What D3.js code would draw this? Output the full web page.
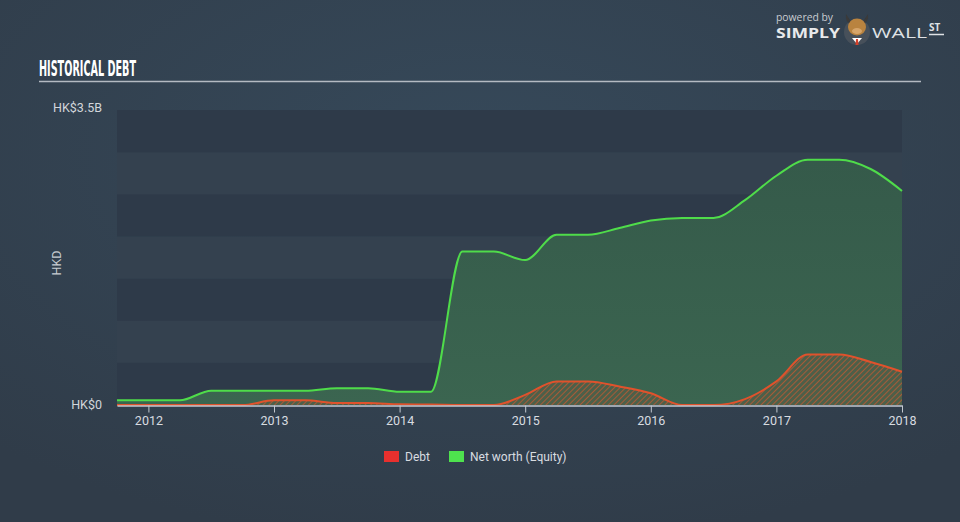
<!DOCTYPE html>
<html>
<head>
<meta charset="utf-8">
<script src="https://cdn.jsdelivr.net/npm/d3@7"></script>
<style>
  html, body { margin: 0; padding: 0; background: #323f4d; }
  svg { display: block; }
</style>
</head>
<body>
<svg id="chart" width="960" height="522"></svg>
<script>
// ---- data (values in HK$ billions) ----
const dates = [2011.75, 2012.0, 2012.25, 2012.5, 2012.75, 2013.0, 2013.25, 2013.5, 2013.75,
  2014.0, 2014.25, 2014.5, 2014.75, 2015.0, 2015.25, 2015.5, 2015.75, 2016.0, 2016.25,
  2016.5, 2016.75, 2017.0, 2017.25, 2017.5, 2017.75, 2018.0];
const equity = [0.056, 0.056, 0.056, 0.17, 0.17, 0.17, 0.17, 0.20, 0.20,
  0.158, 0.158, 1.82, 1.82, 1.72, 2.02, 2.02, 2.10, 2.19, 2.22,
  2.22, 2.43, 2.72, 2.91, 2.91, 2.80, 2.54];
const debt = [0, 0, 0, 0, 0, 0.055, 0.055, 0.024, 0.024,
  0.008, 0.005, 0, 0, 0.12, 0.28, 0.28, 0.22, 0.14, 0,
  0, 0.07, 0.28, 0.60, 0.60, 0.51, 0.395];
const xTicks = [2012, 2013, 2014, 2015, 2016, 2017, 2018];
const yTickValues = [0, 3.5];
const yTickLabels = ["HK$0", "HK$3.5B"];
const seriesNames = ["Debt", "Net worth (Equity)"];
const seriesColors = ["#e8302e", "#4ee24e"];

const svg = d3.select("#chart");
const W = 960, H = 522;

// background
const defs = svg.append("defs");
const bg = defs.append("radialGradient").attr("id", "bg").attr("cx", "50%").attr("cy", "30%").attr("r", "75%");
bg.append("stop").attr("offset", "0%").attr("stop-color", "#36495a");
bg.append("stop").attr("offset", "100%").attr("stop-color", "#303c49");
svg.append("rect").attr("width", W).attr("height", H).attr("fill", "url(#bg)");

const hatch = defs.append("pattern").attr("id", "hatch").attr("patternUnits", "userSpaceOnUse")
  .attr("width", 4).attr("height", 4).attr("patternTransform", "rotate(45)");
hatch.append("rect").attr("width", 4).attr("height", 4).attr("fill", "#5b5a44").attr("fill-opacity", 0.55);
hatch.append("line").attr("x1", 0).attr("y1", 0).attr("x2", 0).attr("y2", 4)
  .attr("stroke", "#d2582f").attr("stroke-width", 1.6).attr("stroke-opacity", 0.85);

const eqGrad = defs.append("linearGradient").attr("id", "eqGrad").attr("x1", 0).attr("y1", 0).attr("x2", 0).attr("y2", 1);
eqGrad.append("stop").attr("offset", "0%").attr("stop-color", "#355a4a");
eqGrad.append("stop").attr("offset", "100%").attr("stop-color", "#3b6550");

// scales
const x = d3.scaleLinear().domain([2011.75, 2018.0]).range([117, 902]);
const y = d3.scaleLinear().domain([0, 3.5]).range([405, 110]);

// bands
const bandEdges = d3.range(0, 3.5, 0.5);
svg.append("g").selectAll("rect").data(bandEdges).join("rect")
  .attr("x", x(2011.75)).attr("width", x(2018.0) - x(2011.75))
  .attr("y", d => y(d + 0.5)).attr("height", d => y(d) - y(d + 0.5))
  .attr("fill", (d, i) => i % 2 === 0 ? "#2e3a49" : "#34414f");

// title
svg.append("text").attr("x", 39).attr("y", 76).text("HISTORICAL DEBT")
  .attr("font-family", "'Liberation Sans Narrow', 'DejaVu Sans Condensed', sans-serif")
  .attr("font-weight", "bold").attr("font-size", 21).attr("fill", "#ffffff")
  .attr("textLength", 97).attr("lengthAdjust", "spacingAndGlyphs");
svg.append("line").attr("x1", 39).attr("x2", 921).attr("y1", 81.5).attr("y2", 81.5)
  .attr("stroke", "#b4bac2").attr("stroke-width", 1.6);

// series
const eqData = dates.map((d, i) => [d, equity[i]]);
const debtData = dates.map((d, i) => [d, debt[i]]);
const area = d3.area().x(d => x(d[0])).y0(y(0)).y1(d => y(d[1])).curve(d3.curveMonotoneX);
const line = d3.line().x(d => x(d[0])).y(d => y(d[1])).curve(d3.curveMonotoneX);

svg.append("path").datum(eqData).attr("d", area).attr("fill", "url(#eqGrad)");
svg.append("path").datum(debtData).attr("d", area).attr("fill", "url(#hatch)");
svg.append("path").datum(eqData).attr("d", line).attr("fill", "none")
  .attr("stroke", "#4fdc4a").attr("stroke-width", 2);
svg.append("path").datum(debtData).attr("d", line).attr("fill", "none")
  .attr("stroke", "#e0522c").attr("stroke-width", 2);

// x axis
const xAxis = d3.axisBottom(x).tickValues(xTicks).tickFormat(d3.format("d")).tickSize(7).tickSizeOuter(0);
const gx = svg.append("g").attr("transform", `translate(0,${y(0) + 0.5})`).call(xAxis);
gx.select(".domain").attr("stroke", "#c3c9d0").attr("stroke-width", 1.3);
gx.selectAll(".tick line").attr("stroke", "#c3c9d0");
gx.selectAll(".tick text").attr("fill", "#d8dce0").attr("font-size", 12.5)
  .attr("font-family", "Roboto, 'Open Sans', sans-serif").attr("dy", "0.95em").attr("y", 8);

// y labels
svg.append("g").selectAll("text").data(yTickValues).join("text")
  .attr("x", 102).attr("y", d => d === 0 ? y(d) + 4 : y(d) + 2)
  .attr("text-anchor", "end").text((d, i) => yTickLabels[i])
  .attr("fill", "#d2d6db").attr("font-size", 12.5).attr("font-family", "Roboto, 'Open Sans', sans-serif");
svg.append("text").attr("transform", "translate(61,263) rotate(-90)").attr("text-anchor", "middle")
  .text("HKD").attr("fill", "#c8ccd2").attr("font-size", 12.5).attr("font-family", "Roboto, 'Open Sans', sans-serif");

// legend
const legX = [384, 449];
const leg = svg.append("g").selectAll("g").data(seriesNames).join("g")
  .attr("transform", (d, i) => `translate(${legX[i]},451)`);
leg.append("rect").attr("width", 15).attr("height", 11).attr("fill", (d, i) => seriesColors[i]);
leg.append("text").attr("x", 21).attr("y", 10).text(d => d)
  .attr("fill", "#d8dce0").attr("font-size", 12).attr("font-family", "Roboto, 'Open Sans', sans-serif");

// logo
const logo = svg.append("g");
logo.append("text").attr("x", 776).attr("y", 21).text("powered by")
  .attr("fill", "#c9cdd2").attr("font-size", 10).attr("font-family", "'Open Sans', sans-serif")
  .attr("textLength", 57).attr("lengthAdjust", "spacingAndGlyphs");
logo.append("text").attr("x", 776).attr("y", 38).text("SIMPLY")
  .attr("fill", "#e8eaec").attr("font-size", 14.5).attr("font-weight", "bold")
  .attr("font-family", "'Open Sans', sans-serif").attr("textLength", 64).attr("lengthAdjust", "spacingAndGlyphs");
logo.append("circle").attr("cx", 857).attr("cy", 32).attr("r", 13).attr("fill", "#47505a");
logo.append("path").attr("d", "M846,14 Q845,22 851,24 L850,20 Z M868,14 Q869,22 863,24 L864,20 Z").attr("fill", "#3a3a3a");
logo.append("ellipse").attr("cx", 857).attr("cy", 27).attr("rx", 9).attr("ry", 8.5).attr("fill", "#b9833f");
logo.append("ellipse").attr("cx", 857).attr("cy", 31).attr("rx", 5).attr("ry", 3).attr("fill", "#d6a56a");
logo.append("path").attr("d", "M852,38 L857,44 L862,38 Z").attr("fill", "#ffffff");
logo.append("path").attr("d", "M856,39 L858,39 L858.5,45 L855.5,45 Z").attr("fill", "#d4402a");
logo.append("text").attr("x", 872).attr("y", 38).text("WALL")
  .attr("fill", "#dfe2e5").attr("font-size", 14.5)
  .attr("font-family", "'Open Sans', sans-serif").attr("textLength", 55).attr("lengthAdjust", "spacingAndGlyphs");
logo.append("text").attr("x", 929).attr("y", 31).text("ST")
  .attr("fill", "#dfe2e5").attr("font-size", 10).attr("font-weight", "bold")
  .attr("font-family", "'Open Sans', sans-serif");
logo.append("line").attr("x1", 929).attr("x2", 944).attr("y1", 34.5).attr("y2", 34.5)
  .attr("stroke", "#dfe2e5").attr("stroke-width", 1.5);
</script>
</body>
</html>
